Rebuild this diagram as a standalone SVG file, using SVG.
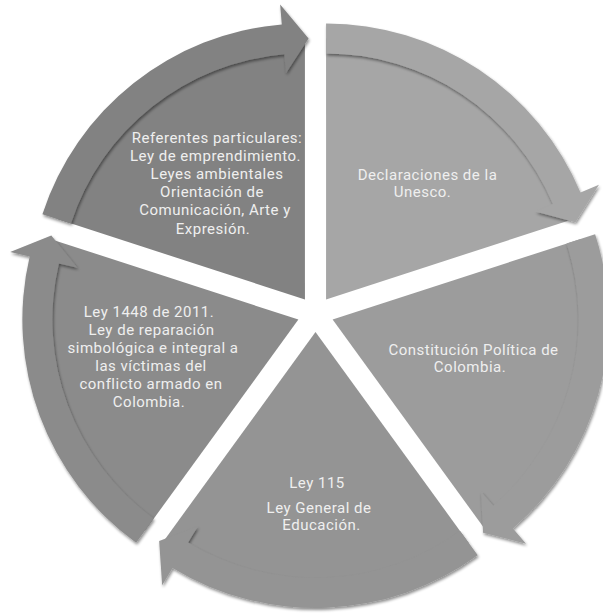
<svg xmlns="http://www.w3.org/2000/svg" width="603" height="616" viewBox="0 0 603 616">
<defs>
<filter id="sh" x="-10%" y="-10%" width="120%" height="120%">
<feGaussianBlur in="SourceAlpha" stdDeviation="1.6"/>
<feOffset dx="0.6" dy="1.6" result="b"/>
<feComponentTransfer><feFuncA type="linear" slope="0.45"/></feComponentTransfer>
<feMerge><feMergeNode/><feMergeNode in="SourceGraphic"/></feMerge>
</filter>
</defs>
<style>
text{font-family:Roboto,"Liberation Sans",sans-serif;font-size:15px;letter-spacing:0.5px;fill:#efefef;text-anchor:middle}
.arrow{filter:url(#sh)}
.a{fill:#a6a6a6}.b{fill:#9c9c9c}.c{fill:#949494}.d{fill:#8b8b8b}.e{fill:#828282}
</style>
<rect width="603" height="616" fill="#ffffff"/>
<g id="node-declaraciones">
<path class="a" d="M326.08 299.44 L326.08 38.44 A261 261 0 0 1 574.31 218.79 Z"/>
</g>
<g id="node-constitucion">
<path class="b" d="M332.62 319.56 L580.85 238.91 A261 261 0 0 1 486.03 530.71 Z"/>
</g>
<g id="node-ley115">
<path class="c" d="M315.5 332 L468.91 543.15 A261 261 0 0 1 162.09 543.15 Z"/>
</g>
<g id="node-ley1448">
<path class="d" d="M298.38 319.56 L144.97 530.71 A261 261 0 0 1 50.15 238.91 Z"/>
</g>
<g id="node-referentes">
<path class="e" d="M304.92 299.44 L56.69 218.79 A261 261 0 0 1 304.92 38.44 Z"/>
</g>
<g id="connectors">
<path class="a arrow" d="M326.08 23.44 A276 276 0 0 1 580.51 192.48 L598.95 184.73 L575.41 222.26 L535.34 211.47 L552.86 204.11 A246 246 0 0 0 326.08 53.44 Z"/>
<path class="b arrow" d="M595.11 234.27 A276 276 0 0 1 512.96 528.49 L526.03 543.63 L483.07 532.83 L480.95 491.40 L493.36 505.78 A246 246 0 0 0 566.58 243.54 Z"/>
<path class="c arrow" d="M477.73 555.29 A276 276 0 0 1 172.52 568.08 L162.16 585.19 L159.16 540.99 L197.91 526.17 L188.06 542.42 A246 246 0 0 0 460.10 531.02 Z"/>
<path class="d arrow" d="M136.15 542.85 A276 276 0 0 1 29.67 256.54 L10.20 251.97 L51.30 235.45 L77.38 267.72 L58.88 263.39 A246 246 0 0 0 153.78 518.58 Z"/>
<path class="e arrow" d="M42.43 214.15 A276 276 0 0 1 281.82 24.41 L280.15 4.48 L308.56 38.47 L285.92 73.24 L284.33 54.30 A246 246 0 0 0 70.96 223.42 Z"/>
</g>
<g id="labels">
<text x="217" y="143">Referentes particulares:</text>
<text x="215.5" y="161.1">Ley de emprendimiento.</text>
<text x="217" y="179.2">Leyes ambientales</text>
<text x="212" y="197.3">Orientación de</text>
<text x="215" y="215.4">Comunicación, Arte y</text>
<text x="213" y="233.5">Expresión.</text>
<text x="427.5" y="179.5">Declaraciones de la</text>
<text x="422.5" y="197.1">Unesco.</text>
<text x="473.5" y="354.5">Constitución Política de</text>
<text x="470" y="372.1">Colombia.</text>
<text x="317" y="488.3">Ley 115</text>
<text x="319" y="512.8">Ley General de</text>
<text x="321.5" y="530.4">Educación.</text>
<text x="149" y="316.7">Ley 1448 de 2011.</text>
<text x="151.5" y="334.8">Ley de reparación</text>
<text x="153" y="352.9">simbológica e integral a</text>
<text x="151" y="371">las víctimas del</text>
<text x="151" y="389.1">conflicto armado en</text>
<text x="149" y="407.2">Colombia.</text>
</g>
</svg>
